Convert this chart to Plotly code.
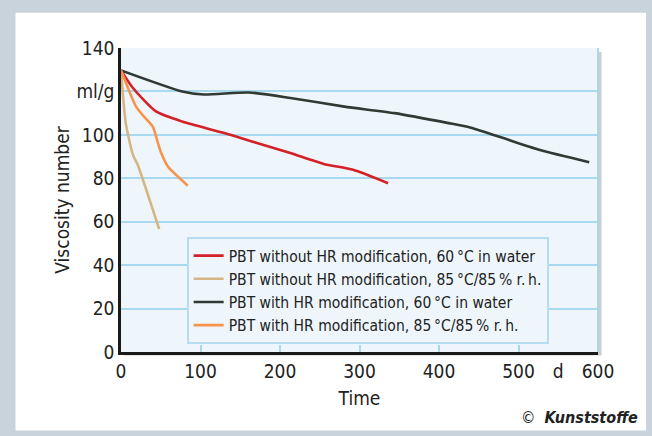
import plotly.graph_objects as go

# ---- data ----
red_x = [0, 15, 44, 78, 130, 171, 213, 255, 292, 336]
red_y = [129.7, 121.6, 110.8, 106.0, 100.8, 96.2, 91.6, 86.6, 83.9, 77.7]

tan_x = [0, 6, 15, 21, 48]
tan_y = [129.7, 105.4, 90.8, 86.2, 56.6]

blk_x = [0, 77, 104, 161, 213, 281, 344, 412, 439, 475, 527, 589]
blk_y = [129.7, 120.0, 118.6, 119.5, 117.0, 113.0, 110.0, 105.4, 103.4, 99.2, 93.0, 87.4]

org_x = [0, 19, 27, 40, 46.5, 50.6, 59, 84]
org_y = [129.7, 113.0, 109.2, 103.8, 96.2, 91.6, 85.4, 76.6]

names = [
    "PBT without HR modification, 60\u2009\u00b0C in water",
    "PBT without HR modification, 85\u2009\u00b0C/85\u2009% r.\u2009h.",
    "PBT with HR modification, 60\u2009\u00b0C in water",
    "PBT with HR modification, 85\u2009\u00b0C/85\u2009% r.\u2009h.",
]
colors = ["#d42027", "#d6b585", "#2f3a35", "#f7944a"]

x_tickvals = [0, 100, 200, 300, 400, 500, 550, 600]
x_ticktext = ["0", "100", "200", "300", "400", "500", "d", "600"]
x_minor = [100, 200, 300, 400, 500]
y_tickvals = [0, 20, 40, 60, 80, 100, 120, 140]
y_ticktext = ["0", "20", "40", "60", "80", "100", "ml/g", "140"]

FONT = "Liberation Sans Narrow, DejaVu Sans Condensed, Liberation Sans, Arial, sans-serif"
GRID = "#a9d9ee"
PLOTBG = "#eef6fc"

fig = go.Figure()
for xs, ys, nm, c in zip([red_x, tan_x, blk_x, org_x], [red_y, tan_y, blk_y, org_y], names, colors):
    fig.add_trace(go.Scatter(x=xs, y=ys, mode="lines", name=nm,
                             line=dict(color=c, width=2.6, shape="spline", smoothing=0.6)))

# layout geometry (pixels)
W, H = 652, 436
L, R, T, B = 121.4, 54, 48.3, 84.3
pw, ph = W - L - R, H - T - B
def px(xp):
    return (xp - L) / pw
def py(yp):
    return (H - B - yp) / ph

shapes = [
    # white panel inside grey frame
    dict(type="rect", xref="paper", yref="paper", x0=px(16), x1=px(646), y0=py(430), y1=py(13),
         fillcolor="white", line=dict(width=0), layer="below"),
    # shadow
    dict(type="rect", xref="paper", yref="paper", x0=px(L + 3), x1=px(L + pw + 3.5), y0=py(H - B + 3.5), y1=py(T + 4),
         fillcolor="rgba(90,90,90,0.3)", line=dict(width=0), layer="below"),
    # plot background
    dict(type="rect", xref="paper", yref="paper", x0=0, x1=1, y0=0, y1=1,
         fillcolor=PLOTBG, line=dict(width=0), layer="below"),
    # right light-blue frame line
    dict(type="line", xref="paper", yref="paper", x0=1, x1=1, y0=0, y1=1,
         line=dict(color=GRID, width=2), layer="below"),
]

fig.update_layout(
    width=W, height=H,
    margin=dict(l=L, r=R, t=T, b=B),
    paper_bgcolor="#c9d3db",
    plot_bgcolor="rgba(0,0,0,0)",
    font=dict(family=FONT, color="#222222", size=19),
    shapes=shapes,
    showlegend=True,
    legend=dict(x=px(187), y=py(237), xanchor="left", yanchor="top",
                bgcolor=PLOTBG, bordercolor="#b8dcef", borderwidth=2,
                font=dict(size=15.5, family=FONT, color="#222222"),
                tracegroupgap=0, itemwidth=30),
    xaxis=dict(range=[0, 600], tickmode="array", tickvals=x_tickvals, ticktext=x_ticktext,
               ticks="", showgrid=False, zeroline=False,
               showline=True, linecolor="#1a1a1a", linewidth=2.5,
               minor=dict(tickmode="array", tickvals=x_minor, ticks="inside", ticklen=7,
                          tickcolor=GRID, tickwidth=1.5, showgrid=False),
               title=dict(text="Time", standoff=12, font=dict(size=19)),
               tickfont=dict(size=19)),
    yaxis=dict(range=[0, 140], tickmode="array", tickvals=y_tickvals, ticktext=y_ticktext,
               ticks="", showgrid=True, gridcolor=GRID, gridwidth=1.5, zeroline=False,
               showline=True, linecolor="#1a1a1a", linewidth=2.5,
               title=dict(text="Viscosity number", standoff=2, font=dict(size=19)),
               tickfont=dict(size=19)),
    annotations=[
        dict(xref="paper", yref="paper", x=px(640), y=py(417), xanchor="right", yanchor="middle",
             text="\u00a9  <b><i>Kunststoffe</i></b>", showarrow=False,
             font=dict(size=16, family=FONT, color="#222222")),
    ],
)

fig.write_html("out.html")
